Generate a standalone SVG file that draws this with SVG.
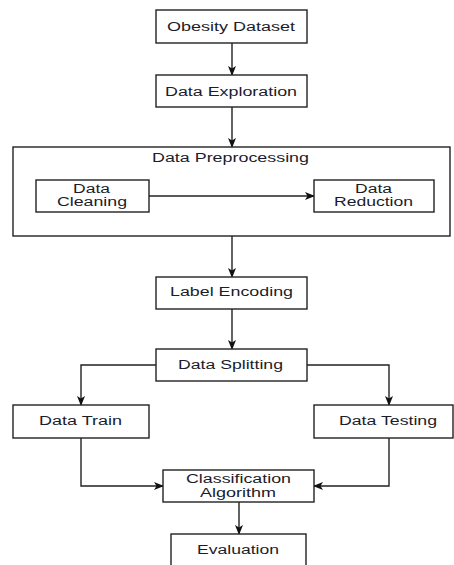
<svg xmlns="http://www.w3.org/2000/svg" width="454" height="565" viewBox="0 0 454 565">
<style>
.box{fill:#fff;stroke:#222;stroke-width:1.4}
.t{font-family:"Liberation Sans",Arial,sans-serif;font-size:12.5px;fill:#1c1c2a;text-anchor:middle}
.t2{font-size:12px}
.c{fill:none;stroke:#222;stroke-width:1.4}
</style>
<defs>
<marker id="ah" markerWidth="10" markerHeight="8" refX="9" refY="4" orient="auto" markerUnits="userSpaceOnUse">
<path d="M0,0 L10,4 L0,8 L2.5,4 Z" fill="#111"/>
</marker>
</defs>
<rect width="454" height="565" fill="#fff"/>
<g id="connectors">
<path class="c" d="M232,43 V75" marker-end="url(#ah)"/>
<path class="c" d="M232,107 V147" marker-end="url(#ah)"/>
<path class="c" d="M149,196 H314" marker-end="url(#ah)"/>
<path class="c" d="M232,236 V277" marker-end="url(#ah)"/>
<path class="c" d="M232,309 V349" marker-end="url(#ah)"/>
<path class="c" d="M156,365 H81 V405" marker-end="url(#ah)"/>
<path class="c" d="M307,365 H389 V405" marker-end="url(#ah)"/>
<path class="c" d="M81,438 V486 H163" marker-end="url(#ah)"/>
<path class="c" d="M389,438 V486 H314" marker-end="url(#ah)"/>
<path class="c" d="M239,502 V534" marker-end="url(#ah)"/>
</g>
<g id="obesity-dataset">
<rect class="box" x="156" y="10" width="151" height="33"/>
<text class="t" x="231" y="30.7" textLength="128" lengthAdjust="spacingAndGlyphs">Obesity Dataset</text>
</g>
<g id="data-exploration">
<rect class="box" x="156" y="75" width="151" height="32"/>
<text class="t" x="231" y="95.7" textLength="132" lengthAdjust="spacingAndGlyphs">Data Exploration</text>
</g>
<g id="data-preprocessing">
<rect class="box" x="13" y="147" width="437" height="89" style="fill:none"/>
<text class="t" x="230.5" y="162.3" textLength="157" lengthAdjust="spacingAndGlyphs">Data Preprocessing</text>
</g>
<g id="data-cleaning">
<rect class="box" x="36" y="180" width="113" height="32"/>
<text class="t t2" x="91.5" y="192.5" textLength="37" lengthAdjust="spacingAndGlyphs">Data</text>
<text class="t t2" x="92" y="206" textLength="70" lengthAdjust="spacingAndGlyphs">Cleaning</text>
</g>
<g id="data-reduction">
<rect class="box" x="314" y="180" width="120" height="32"/>
<text class="t t2" x="373.5" y="192.5" textLength="37" lengthAdjust="spacingAndGlyphs">Data</text>
<text class="t t2" x="373.5" y="206" textLength="79" lengthAdjust="spacingAndGlyphs">Reduction</text>
</g>
<g id="label-encoding">
<rect class="box" x="156" y="277" width="151" height="32"/>
<text class="t" x="231.5" y="296" textLength="123" lengthAdjust="spacingAndGlyphs">Label Encoding</text>
</g>
<g id="data-splitting">
<rect class="box" x="156" y="349" width="151" height="32"/>
<text class="t" x="230.5" y="369.3" textLength="105" lengthAdjust="spacingAndGlyphs">Data Splitting</text>
</g>
<g id="data-train">
<rect class="box" x="13" y="405" width="136" height="33"/>
<text class="t" x="80.5" y="425" textLength="83" lengthAdjust="spacingAndGlyphs">Data Train</text>
</g>
<g id="data-testing">
<rect class="box" x="314" y="405" width="139" height="33"/>
<text class="t" x="388" y="425" textLength="98" lengthAdjust="spacingAndGlyphs">Data Testing</text>
</g>
<g id="classification-algorithm">
<rect class="box" x="163" y="470" width="151" height="32"/>
<text class="t t2" x="238.5" y="483" textLength="105" lengthAdjust="spacingAndGlyphs">Classification</text>
<text class="t t2" x="238" y="496.5" textLength="76" lengthAdjust="spacingAndGlyphs">Algorithm</text>
</g>
<g id="evaluation">
<rect class="box" x="171" y="534" width="135" height="40"/>
<text class="t" x="238" y="554" textLength="82" lengthAdjust="spacingAndGlyphs">Evaluation</text>
</g>
</svg>
